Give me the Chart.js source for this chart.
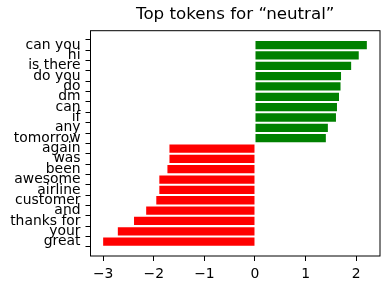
<!DOCTYPE html>
<html>
<head>
<meta charset="utf-8">
<script src="https://cdn.jsdelivr.net/npm/chart.js@4"></script>
<style>
  body { margin: 0; background: #fff; }
</style>
</head>
<body>
<canvas id="chart" width="390" height="290"></canvas>
<script>
// tokens, top to bottom, with their weights
const tokens = ['can you', 'hi', 'is there', 'do you', 'do', 'dm', 'can', 'if', 'any', 'tomorrow',
  'again', 'was', 'been', 'awesome', 'airline', 'customer', 'and', 'thanks for', 'your', 'great'];
const weights = [2.21, 2.05, 1.90, 1.70, 1.69, 1.66, 1.62, 1.60, 1.44, 1.40,
  -1.69, -1.69, -1.73, -1.89, -1.89, -1.95, -2.15, -2.39, -2.71, -3.0];
const xTicks = [-3, -2, -1, 0, 1, 2];
const titleText = 'Top tokens for \u201cneutral\u201d';

const n = tokens.length;
const font = 'DejaVu Sans';

// frame around the axes + title centred over the axes
const framePlugin = {
  id: 'frame',
  afterDraw(chart) {
    const { ctx, chartArea: a } = chart;
    ctx.save();
    ctx.strokeStyle = '#000';
    ctx.lineWidth = 1;
    ctx.strokeRect(a.left, a.top, a.right - a.left, a.bottom - a.top);
    ctx.fillStyle = '#000';
    ctx.font = '16.7px "' + font + '"';
    ctx.textAlign = 'center';
    ctx.textBaseline = 'middle';
    ctx.fillText(titleText, (a.left + a.right) / 2, 15);
    ctx.restore();
  }
};

new Chart(document.getElementById('chart'), {
  type: 'bar',
  data: {
    datasets: [{
      data: weights.map((w, i) => ({ x: w, y: n - 1 - i })),
      backgroundColor: weights.map(w => w > 0 ? '#008000' : '#ff0000'),
      borderWidth: 0,
      barPercentage: 0.8,
      categoryPercentage: 1.0
    }]
  },
  options: {
    indexAxis: 'y',
    responsive: false,
    animation: false,
    devicePixelRatio: 1,
    layout: { padding: { left: 0, right: 10, top: 30.7, bottom: 0 } },
    plugins: { legend: { display: false }, tooltip: { enabled: false }, title: { display: false } },
    scales: {
      y: {
        type: 'linear',
        offset: false,
        min: -1.39,
        max: n - 1 + 1.39,
        afterBuildTicks: s => { s.ticks = tokens.map((_, i) => ({ value: i })); },
        afterFit: s => { s.width = 90.5; },
        grid: { drawOnChartArea: false, drawTicks: true, tickLength: 5, color: '#000' },
        border: { display: false },
        ticks: {
          padding: 5,
          color: '#000',
          font: { family: font, size: 13.9 },
          autoSkip: false,
          callback: v => tokens[n - 1 - v]
        }
      },
      x: {
        type: 'linear',
        min: -3.25,
        max: 2.47,
        afterBuildTicks: s => { s.ticks = xTicks.map(v => ({ value: v })); },
        afterFit: s => { s.height = 34; },
        grid: { drawOnChartArea: false, drawTicks: true, tickLength: 5, color: '#000' },
        border: { display: false },
        ticks: {
          padding: 5,
          color: '#000',
          maxRotation: 0,
          font: { family: font, size: 13.9 },
          callback: v => String(v).replace('-', '\u2212')
        }
      }
    }
  },
  plugins: [framePlugin]
});
</script>
</body>
</html>
